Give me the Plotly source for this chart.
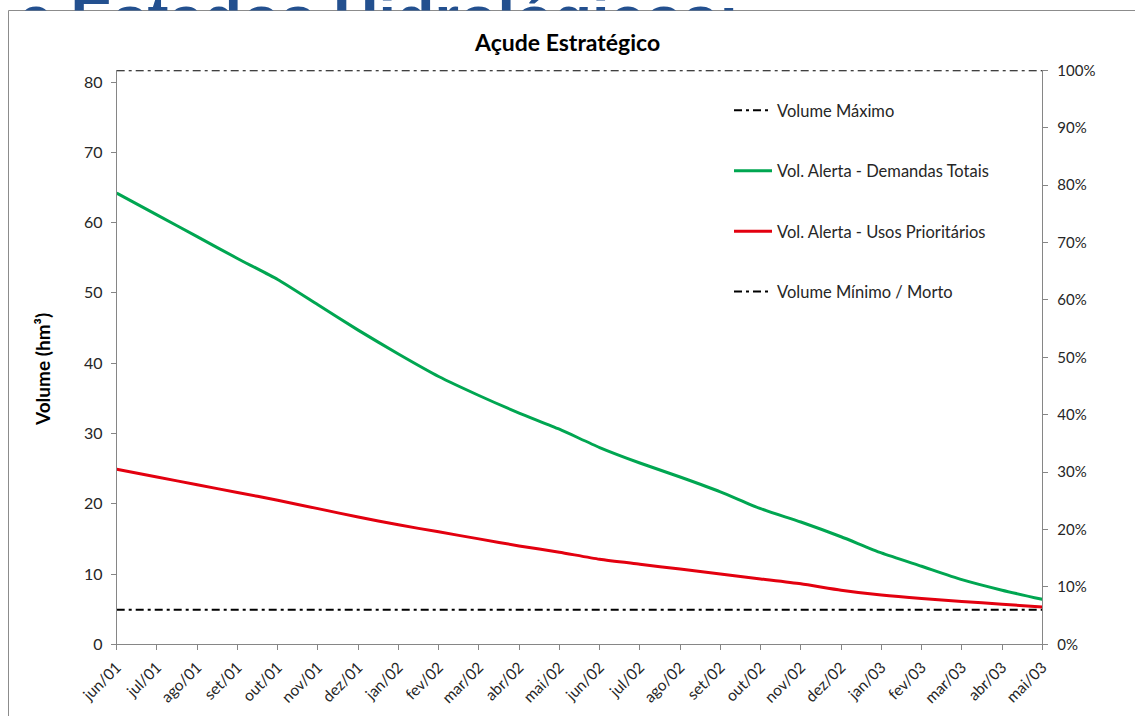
import plotly.graph_objects as go

W, H = 1135, 716

months = ["jun/01", "jul/01", "ago/01", "set/01", "out/01", "nov/01", "dez/01",
          "jan/02", "fev/02", "mar/02", "abr/02", "mai/02", "jun/02", "jul/02",
          "ago/02", "set/02", "out/02", "nov/02", "dez/02", "jan/03", "fev/03",
          "mar/03", "abr/03", "mai/03"]

alerta_totais = [64.2, 61.1, 58.0, 54.9, 51.9, 48.3, 44.7, 41.3, 38.1, 35.4, 32.9, 30.6,
                 28.0, 25.8, 23.8, 21.7, 19.3, 17.4, 15.3, 13.0, 11.1, 9.2, 7.7, 6.4]
alerta_prioritarios = [24.9, 23.8, 22.7, 21.6, 20.5, 19.3, 18.1, 17.0, 16.0, 15.0, 14.0, 13.1,
                       12.1, 11.4, 10.7, 10.0, 9.3, 8.6, 7.7, 7.0, 6.5, 6.1, 5.7, 5.3]
volume_maximo = 81.67
volume_minimo = 4.9

vol_ticks = [0, 10, 20, 30, 40, 50, 60, 70, 80]
pct_ticks = [0, 10, 20, 30, 40, 50, 60, 70, 80, 90, 100]

FONT = "Lato"
TXT = "#262626"
AXIS = "#868686"
GREEN = "#00A651"
RED = "#E3000F"
DASHDOT = "8px,4px,3px,4px"


def px(x):
    return x / W


def py(y):
    return 1 - y / H


fig = go.Figure()

fig.add_trace(go.Scatter(
    x=months, y=[volume_maximo] * len(months), name="Volume Máximo",
    mode="lines", line=dict(color="black", width=2, dash=DASHDOT),
    legendgroup="a", hoverinfo="skip"
))
fig.add_trace(go.Scatter(
    x=months, y=alerta_totais, name="Vol. Alerta - Demandas Totais",
    mode="lines", line=dict(color=GREEN, width=3, shape="spline", smoothing=0.6),
    legendgroup="b"
))
fig.add_trace(go.Scatter(
    x=months, y=alerta_prioritarios, name="Vol. Alerta - Usos Prioritários",
    mode="lines", line=dict(color=RED, width=3, shape="spline", smoothing=0.6),
    legendgroup="c"
))
fig.add_trace(go.Scatter(
    x=months, y=[volume_minimo] * len(months), name="Volume Mínimo / Morto",
    mode="lines", line=dict(color="black", width=2, dash=DASHDOT),
    legendgroup="d", hoverinfo="skip"
))
# dummy trace so the % axis gets drawn
fig.add_trace(go.Scatter(
    x=[months[0]], y=[None], yaxis="y2", showlegend=False, hoverinfo="skip"
))

# slide heading cut off behind the chart frame
fig.add_trace(go.Scatter(
    x=[18], y=[-13.5], mode="text", text=["e Estados Hidrológicos:"],
    textposition="middle right",
    textfont=dict(family="Liberation Sans", size=63, color="#23508F", weight="bold"),
    xaxis="x3", yaxis="y3", cliponaxis=True, showlegend=False, hoverinfo="skip"
))

fig.update_layout(
    width=W, height=H,
    margin=dict(l=0, r=0, t=0, b=0, autoexpand=False),
    plot_bgcolor="white", paper_bgcolor="white",
    font=dict(family=FONT, color=TXT),
    showlegend=True,
    legend=dict(
        x=px(729), y=py(93), xanchor="left", yanchor="top",
        font=dict(size=16.5, color=TXT, family=FONT),
        bgcolor="rgba(0,0,0,0)", tracegroupgap=36, itemwidth=38
    ),
    xaxis=dict(
        domain=[px(116.7), px(1042.3)], type="category", range=[0, len(months) - 1],
        showline=True, linecolor=AXIS, linewidth=1,
        ticks="outside", ticklen=5, tickcolor=AXIS, ticklabelstandoff=2,
        tickangle=-45, tickfont=dict(size=15.5, color=TXT),
        showgrid=False, zeroline=False, anchor="y", automargin=False
    ),
    yaxis=dict(
        domain=[py(644.3), py(70.3)], range=[0, volume_maximo], tickvals=vol_ticks,
        showline=True, linecolor=AXIS, linewidth=1,
        ticks="outside", ticklen=5, tickcolor=AXIS, ticklabelstandoff=5,
        tickfont=dict(size=16, color=TXT),
        showgrid=False, zeroline=False, anchor="x", automargin=False
    ),
    yaxis2=dict(
        overlaying="y", side="right", anchor="x", range=[0, 100],
        tickvals=pct_ticks, ticktext=[f"{v}%" for v in pct_ticks],
        showline=True, linecolor=AXIS, linewidth=1,
        ticks="outside", ticklen=5, tickcolor=AXIS, ticklabelstandoff=6,
        tickfont=dict(size=15, color=TXT),
        showgrid=False, zeroline=False, automargin=False
    ),
    xaxis3=dict(domain=[0, 1], range=[0, W], visible=False, anchor="y3", automargin=False),
    yaxis3=dict(domain=[py(10.5), 1], range=[0, 10.5], visible=False, anchor="x3",
                automargin=False),
    shapes=[dict(
        type="rect", xref="paper", yref="paper",
        x0=px(8.5), x1=1.05, y0=-0.05, y1=py(10.5),
        line=dict(color="#8C8C8C", width=1), layer="below"
    )],
    annotations=[
        dict(text="<b>Açude Estratégico</b>", x=px(567), y=py(42),
             xref="paper", yref="paper", showarrow=False,
             xanchor="center", yanchor="middle",
             font=dict(size=23, color="black", family=FONT)),
        dict(text="<b>Volume (hm³)</b>", x=px(42), y=py(370),
             xref="paper", yref="paper", showarrow=False, textangle=-90,
             xanchor="center", yanchor="middle",
             font=dict(size=19, color="black", family=FONT)),
    ],
)

fig.write_html("out.html", config={"displayModeBar": False},
               post_script="document.body.style.margin='0';")
